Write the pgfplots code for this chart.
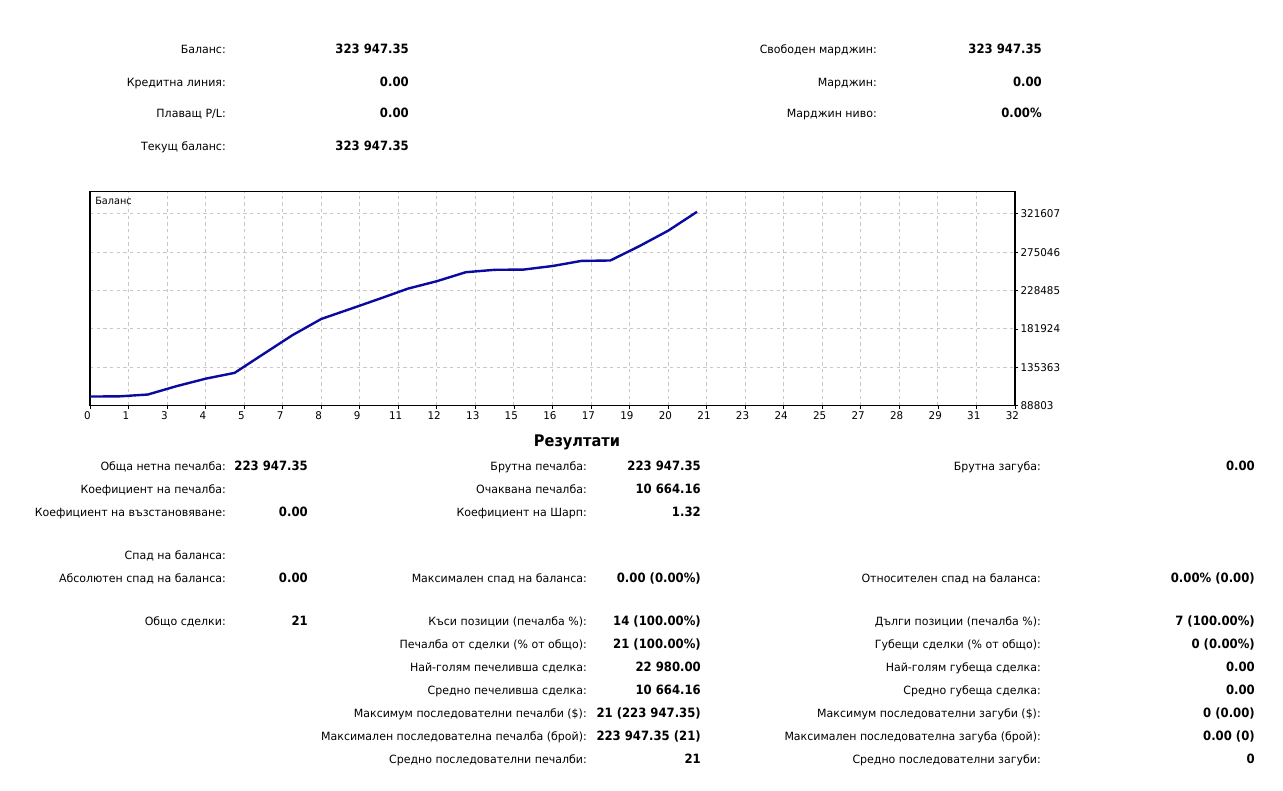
\documentclass[border=0pt]{standalone}
\usepackage{fontspec}
\setmainfont{DejaVu Sans}[FakeStretch=0.97]
\newfontfamily\valfont{DejaVu Sans}[FakeStretch=0.91]
\usepackage{pgfplots}
\pgfplotsset{compat=1.18}

\definecolor{balline}{RGB}{10,10,160}
\definecolor{gridgray}{RGB}{200,200,200}

% one pixel of the report = 0.75pt
\newcommand{\lab}[3]{\node[anchor=mid east,inner sep=0pt] at (#1,#2) {#3};}
\newcommand{\val}[3]{\node[anchor=mid east,inner sep=0pt,font=\valfont\fontsize{9.6}{11}\selectfont\bfseries] at (#1,#2) {#3};}

\begin{document}
\begin{tikzpicture}
\begin{scope}[x=0.75pt,y=-0.75pt]
  \useasboundingbox[fill=white] (0,0) rectangle (1283,790);
\end{scope}

\begin{axis}[
  at={(67.5pt,-304.3pt)}, anchor=south west,
  scale only axis, width=693.75pt, height=160.65pt,
  xmin=0, xmax=32, ymin=88803, ymax=348500,
  scaled y ticks=false,
  axis line style={black, line width=1pt},
  grid=major,
  grid style={gridgray, line width=0.7pt, dash pattern=on 2.5pt off 2.5pt},
  xtick={0,1.33333,2.66667,4,5.33333,6.66667,8,9.33333,10.66667,12,13.33333,14.66667,16,17.33333,18.66667,20,21.33333,22.66667,24,25.33333,26.66667,28,29.33333,30.66667,32},
  xticklabels={0,1,3,4,5,7,8,9,11,12,13,15,16,17,19,20,21,23,24,25,27,28,29,31,32},
  ytick={88803,135363,181924,228485,275046,321607},
  yticklabels={88803,135363,181924,228485,275046,321607},
  xtick pos=left, ytick pos=right, yticklabel pos=right,
  tick align=outside, major tick length=2.5pt,
  tick style={black, line width=0.6pt},
  ticklabel style={font=\fontsize{8}{9}\selectfont, inner sep=1.5pt},
  xticklabel style={xshift=-2pt},
]
\addplot[balline, line width=1.8pt] coordinates {
  (0,100000) (1,100150) (2,102400) (3,112600) (4,121600) (5,128600)
  (6,151500) (7,174300) (8,194000) (9,206100) (10,218300) (11,230800)
  (12,239800) (13,250700) (14,253600) (15,253900) (16,258200) (17,264400)
  (18,264900) (19,282200) (20,301000) (21,323947.35)
};
\end{axis}

\begin{scope}[x=0.75pt,y=-0.75pt, font=\fontsize{8.5}{10}\selectfont]
  % chart caption
  \node[anchor=mid west,inner sep=0pt,font=\fontsize{7.5}{9}\selectfont] at (95,201) {Баланс};

  % account summary
  \lab{226}{50}{Баланс:}            \val{409}{50}{323 947.35}
  \lab{226}{83}{Кредитна линия:}    \val{409}{83}{0.00}
  \lab{226}{114}{Плаващ P/L:}       \val{409}{114}{0.00}
  \lab{226}{147}{Текущ баланс:}     \val{409}{147}{323 947.35}
  \lab{877}{50}{Свободен марджин:}  \val{1042}{50}{323 947.35}
  \lab{877}{83}{Марджин:}           \val{1042}{83}{0.00}
  \lab{877}{114}{Марджин ниво:}     \val{1042}{114}{0.00\%}

  % results
  \node[inner sep=0pt,font=\valfont\fontsize{12}{14}\selectfont\bfseries] at (577,442) {Резултати};

  \lab{226}{467}{Обща нетна печалба:}            \val{308}{467}{223 947.35}
  \lab{587}{467}{Брутна печалба:}                \val{701}{467}{223 947.35}
  \lab{1041}{467}{Брутна загуба:}                \val{1255}{467}{0.00}

  \lab{226}{490}{Коефициент на печалба:}
  \lab{587}{490}{Очаквана печалба:}              \val{701}{490}{10 664.16}

  \lab{226}{513}{Коефициент на възстановяване:}  \val{308}{513}{0.00}
  \lab{587}{513}{Коефициент на Шарп:}            \val{701}{513}{1.32}

  \lab{226}{556}{Спад на баланса:}
  \lab{226}{579}{Абсолютен спад на баланса:}     \val{308}{579}{0.00}
  \lab{587}{579}{Максимален спад на баланса:}    \val{701}{579}{0.00 (0.00\%)}
  \lab{1041}{579}{Относителен спад на баланса:}  \val{1255}{579}{0.00\% (0.00)}

  \lab{226}{622}{Общо сделки:}                   \val{308}{622}{21}
  \lab{587}{622}{Къси позиции (печалба \%):}     \val{701}{622}{14 (100.00\%)}
  \lab{1041}{622}{Дълги позиции (печалба \%):}   \val{1255}{622}{7 (100.00\%)}

  \lab{587}{645}{Печалба от сделки (\% от общо):}  \val{701}{645}{21 (100.00\%)}
  \lab{1041}{645}{Губещи сделки (\% от общо):}     \val{1255}{645}{0 (0.00\%)}

  \lab{587}{668}{Най-голям печеливша сделка:}    \val{701}{668}{22 980.00}
  \lab{1041}{668}{Най-голям губеща сделка:}      \val{1255}{668}{0.00}

  \lab{587}{691}{Средно печеливша сделка:}       \val{701}{691}{10 664.16}
  \lab{1041}{691}{Средно губеща сделка:}         \val{1255}{691}{0.00}

  \lab{587}{714}{Максимум последователни печалби (\$):}  \val{701}{714}{21 (223 947.35)}
  \lab{1041}{714}{Максимум последователни загуби (\$):}  \val{1255}{714}{0 (0.00)}

  \lab{587}{737}{Максимален последователна печалба (брой):}  \val{701}{737}{223 947.35 (21)}
  \lab{1041}{737}{Максимален последователна загуба (брой):}  \val{1255}{737}{0.00 (0)}

  \lab{587}{760}{Средно последователни печалби:}  \val{701}{760}{21}
  \lab{1041}{760}{Средно последователни загуби:}  \val{1255}{760}{0}
\end{scope}
\end{tikzpicture}
\end{document}
